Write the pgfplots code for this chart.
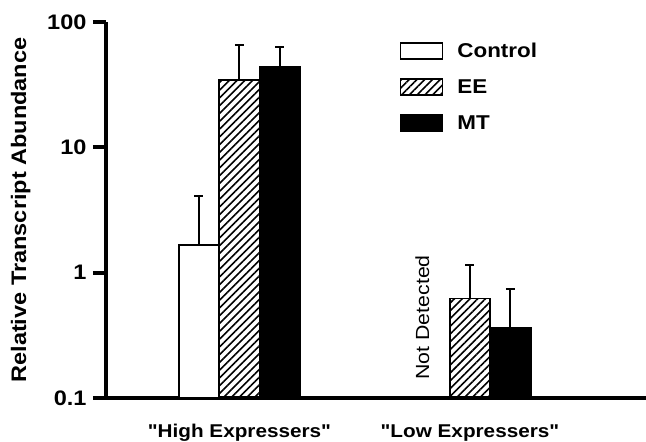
\documentclass[border=0pt]{standalone}
\usepackage{fontspec}
\setmainfont{Liberation Sans}[FakeStretch=1.12, Ligatures=TeXOff]
\usepackage{pgfplots}
\pgfplotsset{compat=1.18}
\usetikzlibrary{patterns.meta}

\begin{document}
\begin{tikzpicture}
\begin{axis}[
  at={(106pt,44pt)}, anchor=south west,
  scale only axis, width=560pt, height=376pt,
  ymode=log, ymin=0.1, ymax=100, log origin=infty,
  xmin=0.421, xmax=2.8505,
  axis x line=bottom, axis y line=left,
  axis line style={-, line width=3.5pt},
  /pgf/number format/assume math mode=true,
  ytick={0.1,1,10,100}, yticklabels={\textbf{0.1},\textbf{1},\textbf{10},\textbf{100}},
  yminorticks=false,
  xtick={1,2}, xticklabels={"High Expressers","Low Expressers"},
  x tick style={draw=none},
  y tick style={line width=4pt, black},
  tick align=outside, major tick length=13pt,
  yticklabel style={font=\bfseries\fontsize{21}{21}\selectfont, xshift=-3pt},
  xticklabel style={font=\bfseries\fontsize{18.5}{18.5}\selectfont, yshift=-10pt},
  ylabel={Relative Transcript Abundance},
  ylabel style={font=\bfseries\fontsize{21}{21}\selectfont, yshift=10pt},
  ybar, bar width=0.1757,
  every axis plot/.append style={draw=black, line width=1.6pt},
  error bars/error bar style={line width=2pt, black},
  error bars/error mark options={rotate=90, line width=2pt, mark size=4.5pt, black},
  legend style={at={(0.519,0.955)}, anchor=north west, draw=none, fill=none,
    font=\bfseries\fontsize{20}{20}\selectfont, row sep=16.5pt,
    /tikz/every odd column/.append style={column sep=12pt}},
  legend cell align=left,
  legend image code/.code={\draw[#1, line width=1.6pt] (0pt,-8pt) rectangle (42pt,8pt);},
]
\addplot[fill=white, bar shift=-0.1757,
  error bars/.cd, y dir=plus, y explicit]
  coordinates {(1,1.67) +- (0,2.43)};
\addplot[pattern={Lines[angle=45,distance=5.5pt,line width=1.6pt]}, bar shift=0,
  error bars/.cd, y dir=plus, y explicit]
  coordinates {(1,34.5) +- (0,31) (2,0.62) +- (0,0.54)};
\addplot[fill=black, bar shift=0.1757,
  error bars/.cd, y dir=plus, y explicit]
  coordinates {(1,44) +- (0,19) (2,0.365) +- (0,0.38)};
\legend{Control,EE,MT}
\node[rotate=90, anchor=south west, inner sep=0pt,
  font=\fontsize{19}{19}\selectfont] at (axis cs:1.824,0.14) {Not Detected};
\end{axis}
\pgfresetboundingbox
\path[use as bounding box] (0,0) rectangle (646pt,442pt);
\end{tikzpicture}
\end{document}
